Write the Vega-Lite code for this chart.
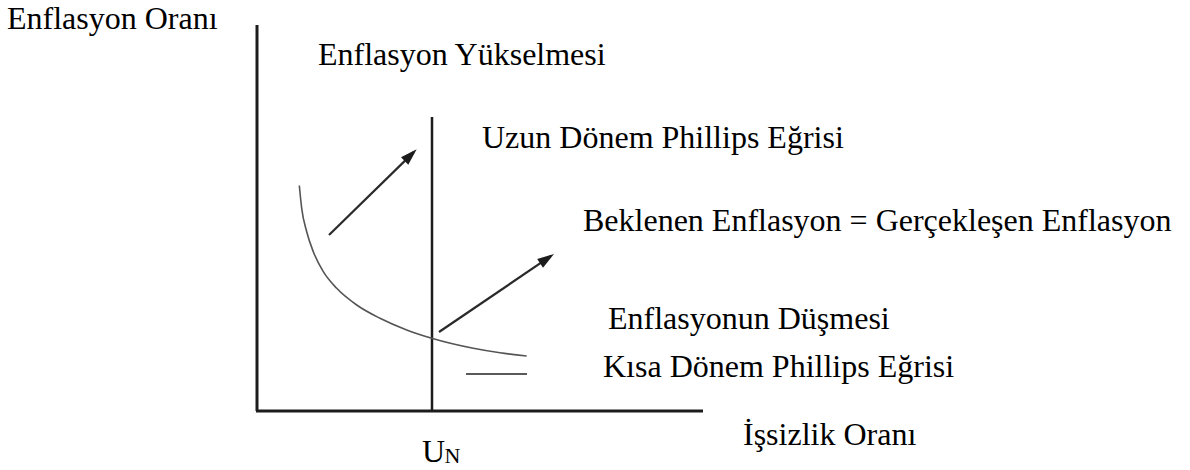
{
  "$schema": "https://vega.github.io/schema/vega-lite/v6.json",
  "width": 1190,
  "height": 470,
  "autosize": {"type": "fit", "contains": "padding"},
  "padding": 0,
  "background": "white",
  "config": {"view": {"stroke": null}},
  "datasets": {
    "axes": [
      {"x": 0, "y": 0, "x2": 0, "y2": 38.6},
      {"x": -0.1, "y": 0, "x2": 44.6, "y2": 0}
    ],
    "lr": [
      {"x": 17.5, "y": 0, "x2": 17.5, "y2": 29.4}
    ],
    "short": [
      {"x": 20.9, "y": 3.7, "x2": 27.0, "y2": 3.7}
    ],
    "arrows": [
      {"name": "yukselme", "x": 7.2, "y": 17.6, "x2": 15.68, "y2": 25.89},
      {"name": "dusme", "x": 18.2, "y": 7.9, "x2": 29.37, "y2": 15.48}
    ],
    "curve": [
      {"x": 4.23, "y": 22.55}, {"x": 4.47, "y": 20.27}, {"x": 4.97, "y": 17.93},
      {"x": 5.63, "y": 15.93}, {"x": 6.63, "y": 13.93}, {"x": 7.97, "y": 12.27},
      {"x": 9.97, "y": 10.6}, {"x": 12.3, "y": 9.27}, {"x": 14.97, "y": 8.1},
      {"x": 17.47, "y": 7.27}, {"x": 21.63, "y": 6.27}, {"x": 24.3, "y": 5.82},
      {"x": 26.97, "y": 5.5}
    ],
    "labels": [
      {"x": -25.0, "y": 38.22, "label": "Enflasyon Oranı"},
      {"x": 6.1, "y": 34.6, "label": "Enflasyon Yükselmesi"},
      {"x": 22.5, "y": 26.3, "label": "Uzun Dönem Phillips Eğrisi"},
      {"x": 32.6, "y": 18.0, "label": "Beklenen Enflasyon = Gerçekleşen Enflasyon"},
      {"x": 35.1, "y": 8.2, "label": "Enflasyonun Düşmesi"},
      {"x": 34.6, "y": 3.4, "label": "Kısa Dönem Phillips Eğrisi"},
      {"x": 48.6, "y": -3.4, "label": "İşsizlik Oranı"},
      {"x": 16.5, "y": -5.1, "label": "U"}
    ],
    "sub": [
      {"x": 18.75, "y": -5.15, "label": "N"}
    ]
  },
  "layer": [
    {
      "data": {"name": "axes"},
      "mark": {"type": "rule", "strokeWidth": 3, "color": "#1c1c1c"},
      "encoding": {
        "x": {"field": "x", "type": "quantitative", "axis": null, "scale": {"domain": [-25.7, 93.3], "nice": false, "zero": false}},
        "y": {"field": "y", "type": "quantitative", "axis": null, "scale": {"domain": [-5.9, 41.1], "nice": false, "zero": false}},
        "x2": {"field": "x2"},
        "y2": {"field": "y2"}
      }
    },
    {
      "data": {"name": "lr"},
      "mark": {"type": "rule", "strokeWidth": 2.5, "color": "#1c1c1c"},
      "encoding": {
        "x": {"field": "x", "type": "quantitative", "axis": null},
        "y": {"field": "y", "type": "quantitative", "axis": null},
        "x2": {"field": "x2"},
        "y2": {"field": "y2"}
      }
    },
    {
      "data": {"name": "short"},
      "mark": {"type": "rule", "strokeWidth": 2, "color": "#5a5a5a"},
      "encoding": {
        "x": {"field": "x", "type": "quantitative", "axis": null},
        "y": {"field": "y", "type": "quantitative", "axis": null},
        "x2": {"field": "x2"},
        "y2": {"field": "y2"}
      }
    },
    {
      "data": {"name": "curve"},
      "mark": {"type": "line", "strokeWidth": 1.6, "color": "#555555", "interpolate": "monotone"},
      "encoding": {
        "x": {"field": "x", "type": "quantitative", "axis": null},
        "y": {"field": "y", "type": "quantitative", "axis": null},
        "order": {"field": "x", "type": "quantitative"}
      }
    },
    {
      "data": {"name": "arrows"},
      "mark": {"type": "rule", "strokeWidth": 2.2, "color": "#2a2a2a"},
      "encoding": {
        "x": {"field": "x", "type": "quantitative", "axis": null},
        "y": {"field": "y", "type": "quantitative", "axis": null},
        "x2": {"field": "x2"},
        "y2": {"field": "y2"}
      }
    },
    {
      "data": {"name": "arrows"},
      "transform": [
        {"calculate": "atan2(datum.x2 - datum.x, datum.y2 - datum.y) * 180 / PI", "as": "angle"}
      ],
      "mark": {"type": "point", "shape": "M0,-0.5L-0.65,1.6L0.65,1.6Z", "filled": true, "opacity": 1, "color": "#1c1c1c", "size": 256, "strokeWidth": 0},
      "encoding": {
        "x": {"field": "x2", "type": "quantitative", "axis": null},
        "y": {"field": "y2", "type": "quantitative", "axis": null},
        "angle": {"field": "angle", "type": "quantitative", "scale": null}
      }
    },
    {
      "data": {"name": "labels"},
      "mark": {"type": "text", "font": "Liberation Serif", "fontSize": 32, "align": "left", "baseline": "alphabetic", "color": "#000000"},
      "encoding": {
        "x": {"field": "x", "type": "quantitative", "axis": null},
        "y": {"field": "y", "type": "quantitative", "axis": null},
        "text": {"field": "label"}
      }
    },
    {
      "data": {"name": "sub"},
      "mark": {"type": "text", "font": "Liberation Serif", "fontSize": 22, "align": "left", "baseline": "alphabetic", "color": "#000000"},
      "encoding": {
        "x": {"field": "x", "type": "quantitative", "axis": null},
        "y": {"field": "y", "type": "quantitative", "axis": null},
        "text": {"field": "label"}
      }
    }
  ]
}
